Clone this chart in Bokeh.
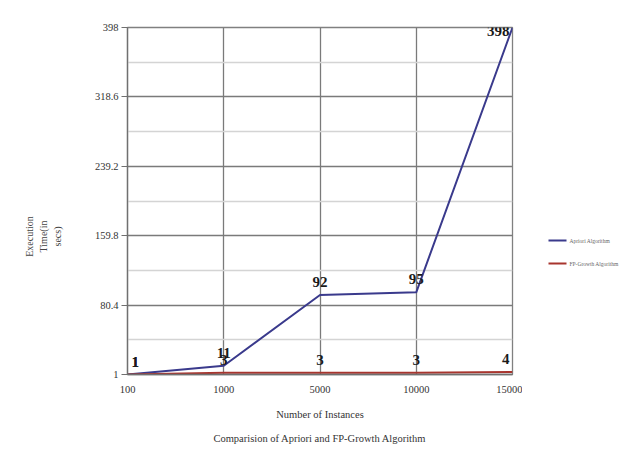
from bokeh.plotting import figure
from bokeh.layouts import row
from bokeh.models import (Range1d, FixedTicker, CustomJSTickFormatter, Title,
                          ColumnDataSource)
from bokeh.core.properties import value
from bokeh.embed import file_html
from bokeh.resources import INLINE
import math

# ---- data ----
instances = ["100", "1000", "5000", "10000", "15000"]
apriori = [1, 11, 92, 95, 398]
fpgrowth = [1, 3, 3, 3, 4]
y_ticks = [1, 80.4, 159.8, 239.2, 318.6, 398]
series_names = ["Apriori Algorithm", "FP-Growth Algorithm"]
title_text = "Comparision of Apriori and FP-Growth Algorithm"
x_title = "Number of Instances"
y_title_lines = ["Execution", "Time(in", "secs)"]

SERIF = "Liberation Serif"
colors = ["#3a3a8c", "#a8352e"]
xs = list(range(len(instances)))

# layout geometry (pixels)
H = 453
TOP, BOTTOM = 27, 79
LEFT_W, MAIN_W, LEG_W = 70, 452, 120
FRAME_H = H - TOP - BOTTOM

p = figure(width=MAIN_W, height=H, output_backend="svg", toolbar_location=None,
           x_range=Range1d(0, len(instances) - 1), y_range=Range1d(y_ticks[0], y_ticks[-1]),
           min_border_left=57, min_border_right=10, min_border_top=TOP,
           min_border_bottom=BOTTOM)
p.background_fill_color = "white"
p.border_fill_color = "white"
p.outline_line_color = "#808080"
p.outline_line_width = 1.3

# axes
minor = [(a + b) / 2 for a, b in zip(y_ticks[:-1], y_ticks[1:])]
p.yaxis.ticker = FixedTicker(ticks=y_ticks, minor_ticks=minor)
p.yaxis.formatter = CustomJSTickFormatter(code="return String(Math.round(tick*10)/10)")
p.xaxis.ticker = FixedTicker(ticks=xs)
p.xaxis.major_label_overrides = {i: s for i, s in enumerate(instances)}
for ax in (p.xaxis[0], p.yaxis[0]):
    ax.axis_line_color = "#707070"
    ax.axis_line_width = 1.3
    ax.major_label_text_font = SERIF
    ax.major_label_text_font_size = "10.5px"
    ax.major_label_text_color = "#333333"
    ax.minor_tick_line_color = None
    ax.major_tick_in = 0
    ax.axis_label_text_font = SERIF
    ax.axis_label_text_font_style = "normal"
    ax.axis_label_text_color = "#333333"
p.yaxis.major_tick_out = 6
p.yaxis.major_tick_line_color = "#707070"
p.yaxis.major_label_standoff = 3
p.xaxis.major_tick_out = 0
p.xaxis.major_tick_line_color = None
p.xaxis.major_label_standoff = 11
p.xaxis.axis_label = x_title
p.xaxis.axis_label_text_font_size = "10.5px"
p.xaxis.axis_label_standoff = 13

# grids
p.xgrid.grid_line_color = "#7a7a7a"
p.xgrid.grid_line_width = 1.3
p.ygrid.grid_line_color = "#7a7a7a"
p.ygrid.grid_line_width = 1.3
p.ygrid.minor_grid_line_color = "#d4d4d4"
p.ygrid.minor_grid_line_width = 1.3

# lines
p.line(xs, apriori, line_color=colors[0], line_width=2)
p.line(xs, fpgrowth, line_color=colors[1], line_width=2)


def label_src(vals):
    n = len(vals)
    top = y_ticks[-1]
    align, base, xo, yo = [], [], [], []
    for i, v in enumerate(vals):
        if i == 0:
            align.append("left"); xo.append(4)
        elif i == n - 1:
            align.append("right"); xo.append(-3)
        else:
            align.append("center"); xo.append(0)
        if v > 0.95 * top:
            base.append("top"); yo.append(-2)
        else:
            base.append("bottom"); yo.append(-8)
    return ColumnDataSource(dict(x=xs, y=vals, t=[str(v) for v in vals],
                                 align=align, base=base, xo=xo, yo=yo))


for vals in (fpgrowth, apriori):
    p.text(x="x", y="y", text="t", source=label_src(vals), text_align="align",
           text_baseline="base", x_offset="xo", y_offset="yo",
           text_font=value(SERIF), text_font_style="bold", text_font_size="15px",
           text_color="#1a1a1a")

# title below the x axis
t = Title(text=title_text, align="center", text_font=SERIF, text_font_size="10.5px",
          text_font_style="normal", text_color="#333333", standoff=16)
p.add_layout(t, "below")


def side_fig(w):
    f = figure(width=w, height=H, output_backend="svg", toolbar_location=None,
               x_range=Range1d(0, w), y_range=Range1d(FRAME_H, 0),
               min_border_left=0, min_border_right=0, min_border_top=TOP,
               min_border_bottom=BOTTOM, x_axis_type=None, y_axis_type=None)
    f.outline_line_color = None
    f.grid.visible = False
    return f


# ---- y-axis title panel (pixel coords inside frame, y down) ----
yt = side_fig(LEFT_W)
yt.text(x=[29 + 14 * i for i in range(len(y_title_lines))], y=[209] * len(y_title_lines),
        text=y_title_lines, angle=math.pi / 2, text_align="center", text_baseline="middle",
        text_font=value(SERIF), text_font_size="10px", text_color="#444444")

# ---- legend panel ----
lg = side_fig(LEG_W)
leg_x0, leg_len, leg_y, leg_gap = 26, 18, 213, 23
for i, (name, c) in enumerate(zip(series_names, colors)):
    yy = leg_y + i * leg_gap
    lg.segment(x0=[leg_x0], y0=[yy], x1=[leg_x0 + leg_len], y1=[yy], line_color=c, line_width=2)
    lg.text(x=[leg_x0 + leg_len + 3], y=[yy], text=[name], text_baseline="middle",
            text_align="left", text_font=value(SERIF), text_font_size="5.5px",
            text_color="#666666")

layout = row(yt, p, lg)
open("out.html", "w").write(file_html(layout, INLINE))
